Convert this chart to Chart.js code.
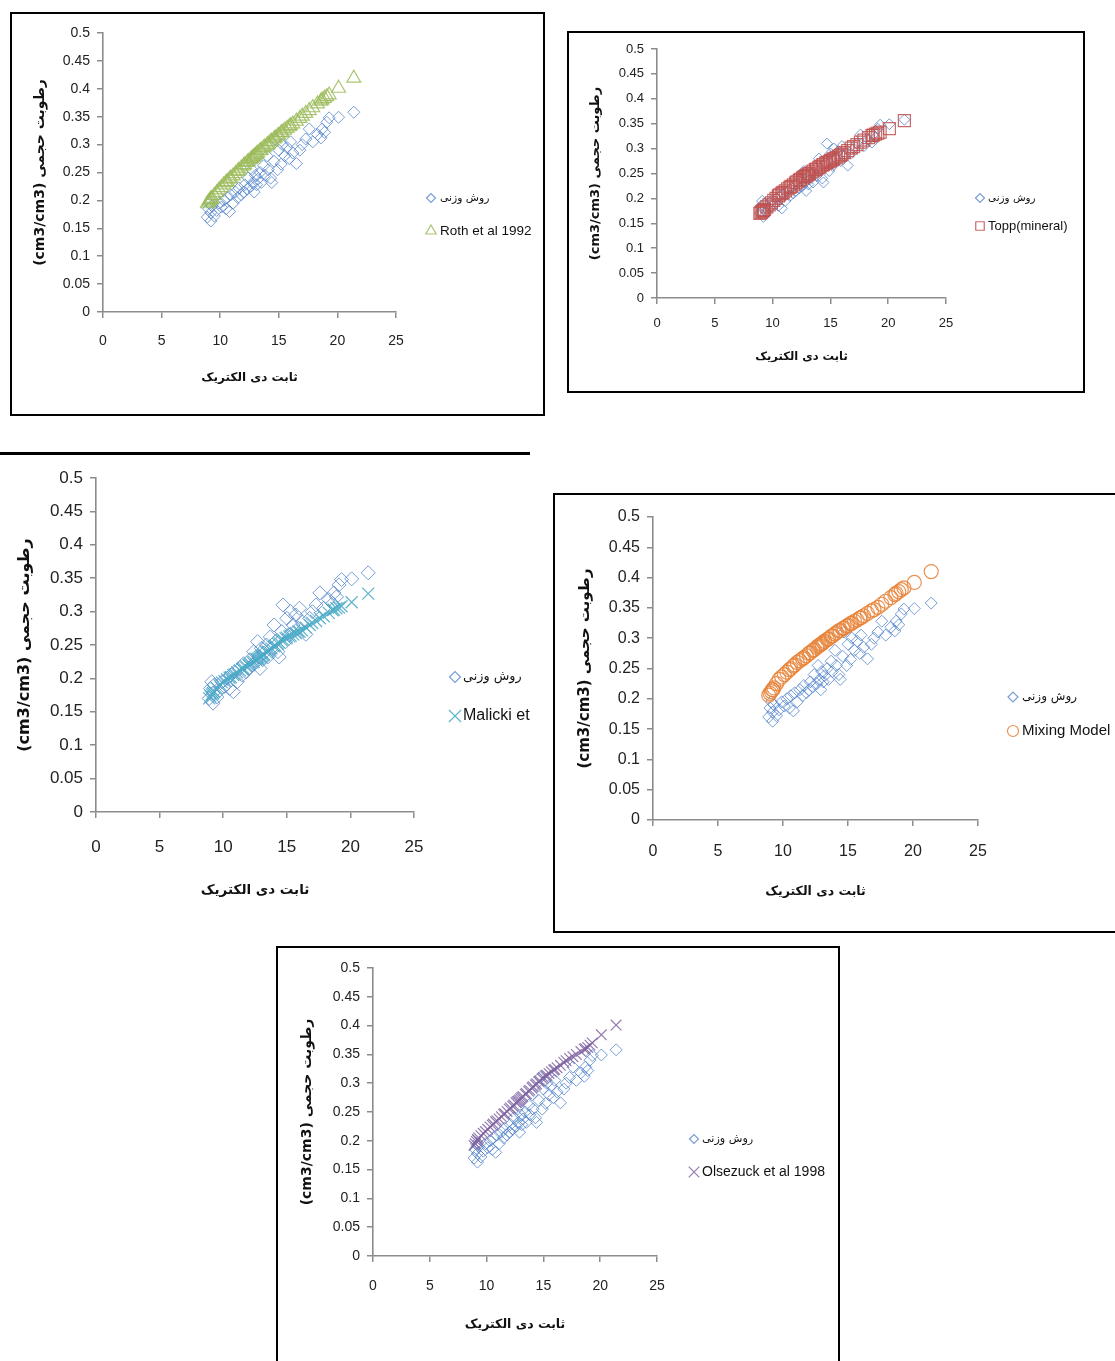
<!DOCTYPE html>
<html>
<head>
<meta charset="utf-8">
<script src="https://cdn.jsdelivr.net/npm/chart.js@4.4.0/dist/chart.umd.min.js"></script>
<style>
  body { margin: 0; background: #fff; width: 1115px; height: 1361px; position: relative; overflow: hidden; }
  .box { position: absolute; box-sizing: border-box; border: 0 solid #000; }
  .wrap { position: absolute; }
</style>
</head>
<body>
<!-- frames around the five charts -->
<div class="box" style="left:10px;top:12px;width:535px;height:404px;border-width:2px;"></div>
<div class="box" style="left:567px;top:31px;width:518px;height:362px;border-width:2px;"></div>
<div class="box" style="left:0;top:452px;width:530px;height:3px;background:#000;"></div>
<div class="box" style="left:553px;top:493px;width:570px;height:440px;border-width:2px 0 2px 2px;"></div>
<div class="box" style="left:276px;top:946px;width:564px;height:430px;border-width:2px 2px 0 2px;"></div>

<div class="wrap" style="left:12px;top:14px;"><canvas id="c1" width="531" height="400"></canvas></div>
<div class="wrap" style="left:569px;top:33px;"><canvas id="c2" width="514" height="358"></canvas></div>
<div class="wrap" style="left:0;top:456px;"><canvas id="c3" width="530" height="470"></canvas></div>
<div class="wrap" style="left:555px;top:495px;"><canvas id="c4" width="560" height="436"></canvas></div>
<div class="wrap" style="left:278px;top:948px;"><canvas id="c5" width="560" height="413"></canvas></div>

<script>
// dielectric constant of each sample (x), shared by every panel
const dielectric = [8.9, 9.0, 9.1, 9.2, 9.2, 9.3, 9.5, 9.7, 9.9, 10.1, 10.3, 10.5, 10.6, 10.8, 10.9,
  11.1, 11.3, 11.5, 11.6, 11.8, 12.0, 12.1, 12.3, 12.4, 12.6, 12.7, 12.8, 12.9, 13.0, 13.1,
  13.2, 13.4, 13.5, 13.7, 13.8, 14.0, 14.1, 14.3, 14.4, 14.6, 14.7, 14.9, 15.0, 15.2, 15.3,
  15.5, 15.7, 15.9, 16.0, 16.2, 16.5, 16.8, 17.0, 17.3, 17.6, 17.9, 18.3, 18.6, 18.7, 18.9,
  19.1, 19.3, 20.1, 21.4];

// gravimetric (measured) volumetric moisture
const gravimetric = [0.170, 0.185, 0.195, 0.163, 0.178, 0.190, 0.172, 0.182, 0.195, 0.188, 0.200, 0.185, 0.205, 0.180, 0.210,
  0.195, 0.215, 0.205, 0.222, 0.210, 0.215, 0.228, 0.220, 0.240, 0.225, 0.255, 0.232, 0.215, 0.245, 0.228,
  0.238, 0.250, 0.232, 0.262, 0.245, 0.280, 0.255, 0.240, 0.232, 0.270, 0.310, 0.255, 0.290, 0.265, 0.300,
  0.280, 0.295, 0.275, 0.305, 0.285, 0.266, 0.290, 0.300, 0.310, 0.328, 0.305, 0.318, 0.312, 0.328, 0.322,
  0.340, 0.348, 0.349, 0.358];

const roth = [0.194, 0.197, 0.199, 0.202, 0.202, 0.204, 0.209, 0.214, 0.219, 0.223, 0.228, 0.232, 0.234, 0.238, 0.240,
  0.244, 0.248, 0.252, 0.254, 0.258, 0.262, 0.264, 0.268, 0.270, 0.273, 0.275, 0.277, 0.279, 0.281, 0.283,
  0.285, 0.289, 0.290, 0.294, 0.296, 0.299, 0.301, 0.305, 0.306, 0.310, 0.312, 0.315, 0.317, 0.321, 0.322,
  0.326, 0.329, 0.332, 0.334, 0.337, 0.342, 0.347, 0.351, 0.356, 0.361, 0.366, 0.373, 0.378, 0.380, 0.383,
  0.386, 0.389, 0.401, 0.419];

const topp = [0.170, 0.172, 0.174, 0.176, 0.176, 0.178, 0.183, 0.187, 0.191, 0.196, 0.200, 0.205, 0.207, 0.210, 0.212,
  0.215, 0.219, 0.222, 0.224, 0.227, 0.231, 0.233, 0.236, 0.238, 0.241, 0.243, 0.244, 0.246, 0.247, 0.249,
  0.250, 0.253, 0.255, 0.258, 0.259, 0.262, 0.264, 0.267, 0.268, 0.271, 0.272, 0.274, 0.276, 0.278, 0.280,
  0.282, 0.285, 0.287, 0.289, 0.292, 0.296, 0.301, 0.304, 0.308, 0.313, 0.317, 0.322, 0.326, 0.327, 0.329,
  0.331, 0.333, 0.340, 0.356];

const malicki = [0.170, 0.173, 0.176, 0.178, 0.178, 0.180, 0.185, 0.190, 0.194, 0.196, 0.199, 0.201, 0.202, 0.205, 0.206,
  0.209, 0.212, 0.214, 0.215, 0.218, 0.220, 0.221, 0.224, 0.225, 0.228, 0.229, 0.230, 0.232, 0.233, 0.235,
  0.236, 0.239, 0.240, 0.243, 0.245, 0.248, 0.249, 0.252, 0.254, 0.257, 0.258, 0.260, 0.261, 0.263, 0.264,
  0.266, 0.268, 0.270, 0.270, 0.272, 0.276, 0.280, 0.283, 0.286, 0.290, 0.293, 0.298, 0.302, 0.303, 0.305,
  0.306, 0.308, 0.314, 0.327];

const mixing = [0.206, 0.209, 0.212, 0.215, 0.215, 0.218, 0.225, 0.232, 0.236, 0.240, 0.244, 0.248, 0.250, 0.254, 0.256,
  0.260, 0.263, 0.266, 0.268, 0.271, 0.275, 0.276, 0.280, 0.281, 0.285, 0.287, 0.288, 0.290, 0.291, 0.293,
  0.295, 0.298, 0.299, 0.303, 0.304, 0.307, 0.309, 0.312, 0.313, 0.316, 0.317, 0.320, 0.321, 0.324, 0.325,
  0.328, 0.330, 0.333, 0.334, 0.337, 0.341, 0.345, 0.347, 0.351, 0.356, 0.361, 0.367, 0.372, 0.374, 0.377,
  0.380, 0.383, 0.392, 0.410];

const olsezuck = [0.192, 0.195, 0.199, 0.202, 0.202, 0.205, 0.209, 0.213, 0.216, 0.220, 0.224, 0.227, 0.229, 0.233, 0.235,
  0.238, 0.242, 0.246, 0.247, 0.251, 0.255, 0.257, 0.260, 0.262, 0.266, 0.268, 0.269, 0.271, 0.273, 0.275,
  0.277, 0.281, 0.282, 0.286, 0.288, 0.292, 0.294, 0.297, 0.299, 0.303, 0.304, 0.308, 0.310, 0.313, 0.314,
  0.317, 0.320, 0.323, 0.324, 0.327, 0.331, 0.336, 0.339, 0.343, 0.346, 0.350, 0.355, 0.359, 0.360, 0.362,
  0.366, 0.370, 0.384, 0.401];

const xTickLabels = ['0', '5', '10', '15', '20', '25'];
const yTickLabels = ['0', '0.05', '0.1', '0.15', '0.2', '0.25', '0.3', '0.35', '0.4', '0.45', '0.5'];

const measuredLabel = 'روش وزنی';
const xTitle = 'ثابت دی الکتریک';
const yTitle = '(cm3/cm3) رطوبت حجمی';

const axisColor = '#8c8c8c';
const latin = "'Liberation Sans', Arial, sans-serif";
const arabic = "'DejaVu Sans', sans-serif";

function pts(values) {
  return dielectric.map((x, i) => ({x: x, y: values[i]}));
}

// legend drawn beside the plot, measured series first, like the Excel originals
function sideLegend(L) {
  return {
    id: 'sideLegend',
    afterDraw(chart) {
      const ctx = chart.ctx;
      const rows = [
        {ds: chart.data.datasets[1], y: L.y1, r: L.r1, font: (L.size * 0.8).toFixed(1) + 'px ' + arabic},
        {ds: chart.data.datasets[0], y: L.y2, r: L.r2, font: L.size + 'px ' + latin}
      ];
      ctx.save();
      rows.forEach(row => {
        ctx.strokeStyle = row.ds.borderColor;
        ctx.fillStyle = 'rgba(0,0,0,0)';
        ctx.lineWidth = 1.2;
        Chart.helpers.drawPoint(ctx, {pointStyle: row.ds.pointStyle, radius: row.r, rotation: 0, borderWidth: 1.2}, L.x, row.y);
        ctx.fillStyle = '#111';
        ctx.font = row.font;
        ctx.textAlign = 'left';
        ctx.textBaseline = 'middle';
        ctx.fillText(row.ds.label, L.tx, row.y);
      });
      ctx.restore();
    }
  };
}

function makeChart(id, o) {
  new Chart(document.getElementById(id), {
    type: 'scatter',
    data: {
      datasets: [{
        label: o.label,
        data: pts(o.values),
        pointStyle: o.style,
        pointRadius: o.radius,
        borderColor: o.color,
        backgroundColor: 'rgba(0,0,0,0)',
        pointBorderWidth: 1.2
      }, {
        label: measuredLabel,
        data: pts(gravimetric),
        pointStyle: 'rectRot',
        pointRadius: o.dRadius,
        borderColor: 'rgba(74,126,200,0.75)',
        backgroundColor: 'rgba(0,0,0,0)',
        pointBorderWidth: 1
      }]
    },
    plugins: [sideLegend(o.legend)],
    options: {
      responsive: false,
      animation: false,
      layout: {padding: {top: o.padTop, right: o.padRight, left: 0, bottom: 0}},
      plugins: {
        tooltip: {enabled: false},
        legend: {display: false}
      },
      scales: {
        x: {
          type: 'linear', min: 0, max: 25,
          afterFit: s => { s.height = o.xH; },
          border: {color: axisColor, width: 1.6},
          grid: {drawOnChartArea: false, color: axisColor, lineWidth: 1.5, tickLength: 6},
          ticks: {stepSize: 5, autoSkip: false, maxRotation: 0, color: '#222', padding: o.xTickPad,
            font: {family: latin, size: o.tick}, callback: (v, i) => xTickLabels[i]},
          title: {display: true, text: xTitle, color: '#111',
            font: {family: arabic, size: o.xtSize, weight: 'bold'},
            padding: {top: 0, bottom: o.xtPad}}
        },
        y: {
          type: 'linear', min: 0, max: 0.5,
          afterFit: s => { s.width = o.yW; },
          border: {color: axisColor, width: 1.6},
          grid: {drawOnChartArea: false, color: axisColor, lineWidth: 1.5, tickLength: 6},
          ticks: {stepSize: 0.05, autoSkip: false, color: '#222', padding: 7,
            font: {family: latin, size: o.tick}, callback: (v, i) => yTickLabels[i]},
          title: {display: true, text: yTitle, color: '#111',
            font: {family: arabic, size: o.ytSize, weight: 'bold'},
            padding: {top: o.ytPad, bottom: o.ytPad}}
        }
      }
    }
  });
}

makeChart('c1', {label: 'Roth et al 1992', values: roth, style: 'triangle', radius: 8, color: 'rgba(155,187,89,0.85)',
  dRadius: 6, padTop: 19, padRight: 147, yW: 91, xH: 102, tick: 14, xTickPad: 15,
  xtSize: 12, xtPad: 29, ytSize: 14, ytPad: 20,
  legend: {x: 419, tx: 428, y1: 184, y2: 217, r1: 4.5, r2: 6, size: 13.5}});

makeChart('c2', {label: 'Topp(mineral)', values: topp, style: 'rect', radius: 8.5, color: 'rgba(192,80,77,0.85)',
  dRadius: 5.5, padTop: 16, padRight: 137, yW: 88, xH: 93, tick: 13, xTickPad: 12,
  xtSize: 11.5, xtPad: 27, ytSize: 13, ytPad: 19,
  legend: {x: 411, tx: 419, y1: 165, y2: 193, r1: 4.5, r2: 6, size: 13}});

makeChart('c3', {label: 'Malicki et', values: malicki, style: 'crossRot', radius: 8.5, color: 'rgba(75,172,198,0.9)',
  dRadius: 7, padTop: 22, padRight: 116, yW: 96, xH: 114, tick: 17, xTickPad: 19,
  xtSize: 13.5, xtPad: 27, ytSize: 16, ytPad: 15,
  legend: {x: 455, tx: 463, y1: 221, y2: 260, r1: 5.5, r2: 8.5, size: 16}});

makeChart('c4', {label: 'Mixing Model', values: mixing, style: 'circle', radius: 7, color: 'rgba(232,133,60,0.9)',
  dRadius: 6, padTop: 22, padRight: 137, yW: 98, xH: 111, tick: 16, xTickPad: 16,
  xtSize: 12.5, xtPad: 32, ytSize: 15, ytPad: 21,
  legend: {x: 458, tx: 467, y1: 202, y2: 236, r1: 5, r2: 5.5, size: 15}});

makeChart('c5', {label: 'Olsezuck et al 1998', values: olsezuck, style: 'crossRot', radius: 7.5, color: 'rgba(128,100,162,0.85)',
  dRadius: 6, padTop: 20, padRight: 181, yW: 95, xH: 105, tick: 14, xTickPad: 16,
  xtSize: 12.5, xtPad: 29, ytSize: 14, ytPad: 21,
  legend: {x: 416, tx: 424, y1: 191, y2: 224, r1: 4.5, r2: 7.5, size: 14}});
</script>
</body>
</html>
